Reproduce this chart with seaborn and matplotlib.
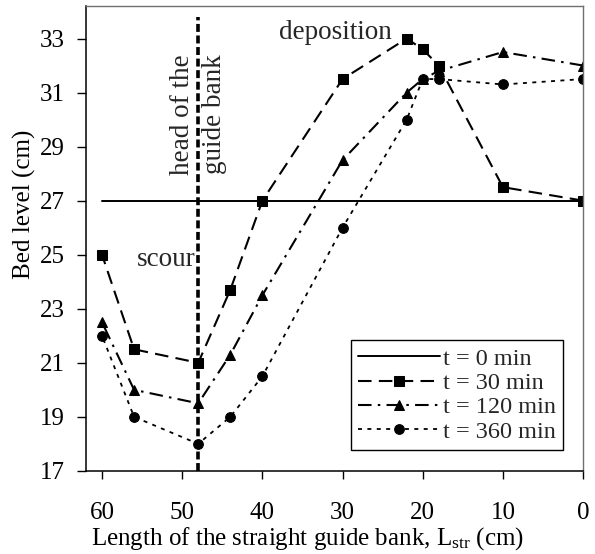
import matplotlib
matplotlib.use("Agg")
import matplotlib.pyplot as plt
import seaborn as sns
import pandas as pd

# ---- data ----
x_t0 = [60, 0]
bed_t0 = [27, 27]

x_pts = [60, 56, 48, 44, 40, 30, 22, 20, 18, 10, 0]
bed_t30 = [25, 21.5, 21, 23.7, 27, 31.5, 33, 32.6, 32, 27.5, 27]
bed_t120 = [22.5, 20, 19.5, 21.3, 23.5, 28.5, 31, 31.5, 31.8, 32.5, 32]
bed_t360 = [22, 19, 18, 19, 20.5, 26, 30, 31.5, 31.5, 31.3, 31.5]

labels = ["t = 0 min", "t = 30 min", "t = 120 min", "t = 360 min"]
x_ticks = [60, 50, 40, 30, 20, 10, 0]
y_ticks = [17, 19, 21, 23, 25, 27, 29, 31, 33]

head_x = 48
head_top = 33.8

# ---- style ----
sns.set_theme(style="ticks")
plt.rcParams["font.family"] = ["Liberation Serif", "DejaVu Serif"]
plt.rcParams["mathtext.fontset"] = "custom"
plt.rcParams["mathtext.rm"] = "Liberation Serif"
plt.rcParams["mathtext.it"] = "Liberation Serif:italic"

FS = 18
FS_ANN = 19.5

fig = plt.figure(figsize=(5.95, 5.54), dpi=100)
ax = fig.add_axes([0.1445, 0.150, 0.8355, 0.839])

lw = 1.5
sns.lineplot(x=x_t0, y=bed_t0, ax=ax, color="black", lw=1.4,
             label=labels[0], estimator=None)
sns.lineplot(x=x_pts, y=bed_t30, ax=ax, color="black", lw=lw,
             linestyle=(0, (6.5, 3.5)), marker="s", markersize=6.5,
             markeredgecolor="black", label=labels[1], estimator=None)
sns.lineplot(x=x_pts, y=bed_t120, ax=ax, color="black", lw=lw,
             linestyle=(0, (6.5, 3.0, 1.2, 3.0)), marker="^", markersize=7,
             markeredgecolor="black", label=labels[2], estimator=None)
sns.lineplot(x=x_pts, y=bed_t360, ax=ax, color="black", lw=1.3,
             linestyle=(0, (2.2, 3.0)), marker="o", markersize=7,
             markeredgecolor="black", label=labels[3], estimator=None)

ax.vlines(head_x, 17, head_top, colors="black", lw=2.6,
          linestyles=[(0, (2.2, 1.0))])

ax.set_xlim(62, 0)
ax.set_ylim(17, 34.2)
ax.set_xticks(x_ticks)
ax.set_yticks(y_ticks)
ax.tick_params(axis="x", direction="out", length=5.5, width=1, pad=17,
               labelsize=FS, colors="black")
ax.tick_params(axis="y", direction="out", length=6.5, width=1, pad=9,
               labelsize=FS, colors="black")

for s in ["left", "bottom"]:
    ax.spines[s].set_color("black")
    ax.spines[s].set_linewidth(1.1)
for s in ["top", "right"]:
    ax.spines[s].set_color("#707070")
    ax.spines[s].set_linewidth(1.0)

ax.set_xlabel(r"Length of the straight guide bank, L$_{\mathrm{str}}$ (cm)",
              fontsize=FS, color="black")
ax.set_ylabel("Bed level (cm)", fontsize=FS, color="black")
ax.xaxis.set_label_coords(0.445, -0.117)
ax.yaxis.set_label_coords(-0.1, 0.573)

ax.text(head_x, 30.2, "head of the\nguide bank", rotation=90, ha="center",
        va="center", fontsize=FS_ANN, linespacing=1.35, multialignment="center")
ax.text(55.6, 24.6, "scour", ha="left", va="baseline", fontsize=FS_ANN)
ax.text(37.9, 33.0, "deposition", ha="left", va="baseline", fontsize=FS_ANN)

leg = ax.legend(loc="lower right", bbox_to_anchor=(0.96, 0.0445),
                borderaxespad=0, fontsize=17.5, frameon=True, fancybox=False,
                framealpha=1, edgecolor="black", handlelength=3.4,
                handletextpad=0.1, labelspacing=0.1, borderpad=0.3)
leg.get_frame().set_linewidth(1.0)

fig.savefig("out.png", dpi=100)
